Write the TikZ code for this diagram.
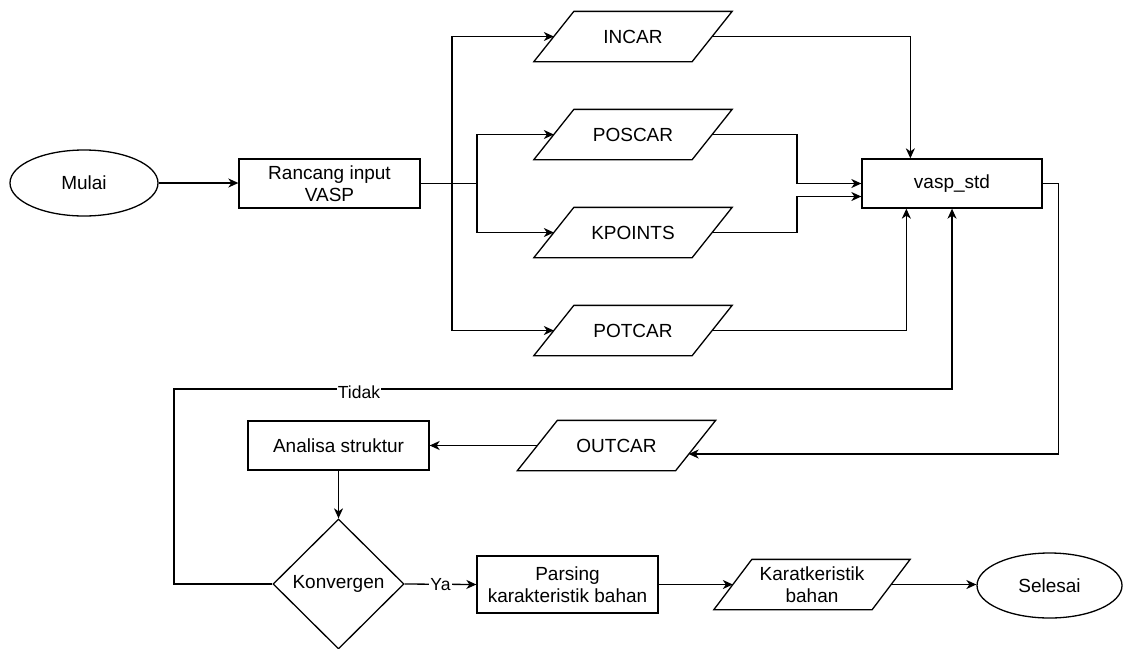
\documentclass[tikz,border=0pt]{standalone}
\usepackage{fontspec}
\setmainfont{Liberation Sans}
\usetikzlibrary{shapes.geometric,arrows.meta,calc}
\begin{document}
\begin{tikzpicture}[x=1pt,y=-1pt,
  line width=1.3pt,
  >={Stealth[length=10pt,width=9pt,inset=3pt]},
  every node/.style={font=\fontsize{19}{22.5}\selectfont, inner sep=0pt, align=center},
  term/.style={draw, ellipse},
  procbox/.style={draw, rectangle, minimum width=181pt, minimum height=49pt},
  iobox/.style={rectangle, minimum width=157pt, minimum height=49pt},
  decis/.style={draw, diamond, minimum width=131pt, minimum height=130pt},
  lbl/.style={font=\fontsize{17.5}{20}\selectfont, fill=white, inner sep=1pt}
]
\useasboundingbox (0,0) rectangle (1123,648);

% nodes
\node[term, minimum width=148pt, minimum height=66pt] (mulai) at (84,183) {Mulai};
\node[procbox] (rancang) at (329.5,183.5) {Rancang input\\VASP};
\node[iobox] (incar) at (633,36.5) {INCAR};
\node[iobox] (poscar) at (633,134.5) {POSCAR};
\node[iobox] (kpoints) at (633,232.5) {KPOINTS};
\node[iobox] (potcar) at (633,330.5) {POTCAR};
\node[procbox, minimum width=180pt] (vasp) at (952,183.5) {vasp\_std};
\node[iobox] (outcar) at (616.5,445.5) {OUTCAR};
\node[procbox] (analisa) at (338.5,445.5) {Analisa struktur};
\node[decis] (konv) at (338.5,584) {Konvergen};
\node[procbox, minimum height=57pt] (parsing) at (567.5,584.5) {Parsing\\karakteristik bahan};
\node[iobox] (karat) at (812,584.5) {Karatkeristik\\bahan};
\node[term, minimum width=145pt, minimum height=65pt] (selesai) at (1049.5,585.5) {Selesai};

% parallelogram outlines
\foreach \n/\s in {incar/20,poscar/20,kpoints/20,potcar/20,outcar/20,karat/19}
  \draw ($(\n.north west)+(\s,0)$) -- ($(\n.north east)+(\s,0)$)
        -- ($(\n.south east)-(\s,0)$) -- ($(\n.south west)-(\s,0)$) -- cycle;

% helper coordinates
\coordinate (b1) at (452,183.5);
\coordinate (b2) at (477,183.5);
\coordinate (mx) at (797,0);
\coordinate (k2) at ($(vasp.west)+(0,13)$);
\coordinate (tl) at (174,389);
\coordinate (outin) at ($(outcar.east)+(-7,8.5)$);

% connectors
\draw[->] (mulai.east) -- (mulai.east -| rancang.west);
\draw (rancang.east) -- (b2);
\draw[->] (b2) |- (poscar.west);
\draw[->] (b2) |- (kpoints.west);
\draw[->] (b1) |- (incar.west);
\draw[->] (b1) |- (potcar.west);
\draw[->] (incar.east) -| ($(vasp.north west)+(49,0)$);
\draw[->] (poscar.east) -| (mx |- vasp.west) -- (vasp.west);
\draw[->] (kpoints.east) -| (mx |- k2) -- (k2);
\draw[->] (potcar.east) -| ($(vasp.south west)+(45,0)$);
\draw[->] (vasp.east) -- ++(16,0) |- (outin);
\draw[->] (outcar.west) -- (analisa.east);
\draw[->] (analisa.south) -- (konv.north);
\draw[->] (konv.west) -| (tl) -| (vasp.south);
\node[lbl] (tidak) at (359,392) {Tidak};
\draw[->] (konv.east) -- node[lbl] (ya) {Ya} (parsing.west);
\draw[->] (parsing.east) -- (parsing.east -| karat.west);
\draw[->] (karat.east) -- (karat.east -| selesai.west);
\end{tikzpicture}
\end{document}
